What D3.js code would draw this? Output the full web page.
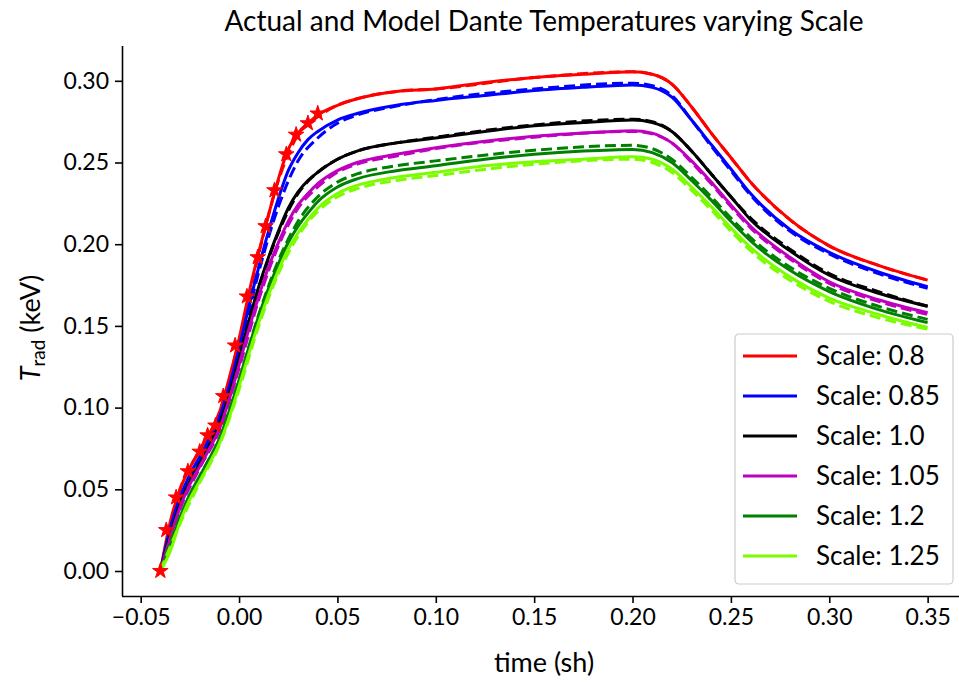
<!DOCTYPE html>
<html lang="en">
<head>
<meta charset="utf-8">
<title>Dante Temperatures</title>
<script src="https://d3js.org/d3.v7.min.js"></script>
<style>
  body { margin: 0; background: #fff; }
  text { font-family: Lato, "Open Sans", sans-serif; fill: #000; }
</style>
</head>
<body>
<div id="main"></div>
<script>

var width = 959,
    height = 684;

// model curves (solid)
var times = [-0.04, -0.035, -0.03, -0.025, -0.02, -0.015, -0.01, -0.005, 0, 0.005, 0.01, 0.015, 0.02, 0.025, 0.03, 0.035, 0.04,
             0.05, 0.06, 0.08, 0.1, 0.125, 0.15, 0.175, 0.2, 0.21, 0.22, 0.23, 0.24, 0.25, 0.26, 0.28, 0.3, 0.325, 0.35];

var scale080 = [0, 0.030, 0.050, 0.063, 0.074, 0.084, 0.097, 0.118, 0.142, 0.170, 0.195, 0.218, 0.240, 0.258, 0.268, 0.274, 0.279,
                0.285, 0.289, 0.2935, 0.295, 0.299, 0.302, 0.304, 0.3055, 0.304, 0.298, 0.284, 0.268, 0.253, 0.238, 0.215, 0.199, 0.187, 0.178];
var scale085 = [0, 0.026, 0.045, 0.059, 0.070, 0.081, 0.094, 0.113, 0.136, 0.162, 0.186, 0.208, 0.228, 0.245, 0.256, 0.264, 0.269,
                0.276, 0.280, 0.285, 0.288, 0.291, 0.294, 0.296, 0.2975, 0.296, 0.290, 0.276, 0.261, 0.246, 0.231, 0.209, 0.195, 0.183, 0.174];
var scale100 = [0, 0.022, 0.041, 0.055, 0.066, 0.077, 0.090, 0.108, 0.130, 0.153, 0.174, 0.192, 0.208, 0.222, 0.232, 0.239, 0.244,
                0.252, 0.257, 0.262, 0.265, 0.269, 0.2725, 0.2745, 0.276, 0.2745, 0.269, 0.257, 0.243, 0.229, 0.215, 0.196, 0.181, 0.170, 0.162];
var scale105 = [0, 0.020, 0.039, 0.053, 0.064, 0.075, 0.087, 0.105, 0.126, 0.148, 0.168, 0.186, 0.201, 0.214, 0.224, 0.231, 0.237,
                0.245, 0.250, 0.255, 0.259, 0.263, 0.266, 0.268, 0.2695, 0.268, 0.262, 0.251, 0.238, 0.224, 0.211, 0.192, 0.177, 0.166, 0.158];
var scale120 = [0, 0.015, 0.033, 0.047, 0.058, 0.069, 0.081, 0.098, 0.117, 0.137, 0.156, 0.173, 0.188, 0.201, 0.211, 0.219, 0.226,
                0.235, 0.240, 0.245, 0.248, 0.252, 0.255, 0.257, 0.258, 0.256, 0.250, 0.239, 0.227, 0.214, 0.202, 0.184, 0.171, 0.160, 0.152];
var scale125 = [0, 0.012, 0.030, 0.044, 0.055, 0.066, 0.078, 0.094, 0.113, 0.133, 0.152, 0.169, 0.184, 0.197, 0.207, 0.215, 0.222,
                0.231, 0.236, 0.241, 0.244, 0.248, 0.2505, 0.252, 0.2535, 0.252, 0.246, 0.235, 0.223, 0.210, 0.198, 0.180, 0.167, 0.157, 0.149];

// second set (dashed)
var timesDash = [-0.04, -0.03, -0.02, -0.01, 0, 0.01, 0.02, 0.03, 0.04, 0.05, 0.06, 0.08, 0.1, 0.15, 0.2,
                 0.21, 0.22, 0.23, 0.24, 0.25, 0.26, 0.28, 0.3, 0.325, 0.35];

var dash080 = [0, 0.050, 0.074, 0.097, 0.141, 0.194, 0.239, 0.267, 0.278, 0.285, 0.289, 0.2935, 0.295, 0.302, 0.3055,
               0.304, 0.298, 0.284, 0.268, 0.253, 0.238, 0.215, 0.199, 0.187, 0.178];
var dash085 = [0, 0.044, 0.069, 0.092, 0.133, 0.183, 0.223, 0.251, 0.265, 0.274, 0.279, 0.2845, 0.2885, 0.295, 0.2985,
               0.297, 0.291, 0.276, 0.260, 0.245, 0.230, 0.208, 0.194, 0.182, 0.173];
var dash100 = [0, 0.040, 0.065, 0.089, 0.129, 0.173, 0.207, 0.231, 0.244, 0.252, 0.257, 0.262, 0.2655, 0.273, 0.2765,
               0.275, 0.269, 0.257, 0.243, 0.229, 0.216, 0.197, 0.182, 0.171, 0.162];
var dash105 = [0, 0.038, 0.063, 0.086, 0.124, 0.166, 0.199, 0.222, 0.235, 0.244, 0.249, 0.254, 0.2585, 0.2655, 0.269,
               0.2675, 0.262, 0.250, 0.237, 0.223, 0.210, 0.191, 0.176, 0.165, 0.157];
var dash120 = [0, 0.033, 0.058, 0.081, 0.117, 0.157, 0.190, 0.214, 0.229, 0.238, 0.243, 0.248, 0.251, 0.2575, 0.2605,
               0.2585, 0.252, 0.241, 0.229, 0.216, 0.204, 0.186, 0.173, 0.162, 0.154];
var dash125 = [0, 0.029, 0.054, 0.077, 0.111, 0.150, 0.182, 0.205, 0.220, 0.229, 0.234, 0.239, 0.242, 0.249, 0.252,
               0.250, 0.244, 0.233, 0.221, 0.208, 0.196, 0.178, 0.165, 0.155, 0.148];

// measured Dante points (stars)
var starT = [-0.04, -0.037, -0.032, -0.026, -0.020, -0.016, -0.012, -0.008, -0.002, 0.004, 0.0095, 0.0135, 0.018, 0.024, 0.029, 0.035, 0.040];
var starV = [0, 0.025, 0.045, 0.061, 0.073, 0.083, 0.089, 0.107, 0.138, 0.168, 0.192, 0.211, 0.233, 0.255, 0.267, 0.274, 0.280];

var labels = ["Scale: 0.8", "Scale: 0.85", "Scale: 1.0", "Scale: 1.05", "Scale: 1.2", "Scale: 1.25"];
var colors = ["#ff0000", "#0000ff", "#000000", "#bf00bf", "#008000", "#7cfc00"];
var solidSeries = [scale080, scale085, scale100, scale105, scale120, scale125];
var dashSeries = [dash080, dash085, dash100, dash105, dash120, dash125];

var xTicks = [-0.05, 0, 0.05, 0.1, 0.15, 0.2, 0.25, 0.3, 0.35];
var yTicks = [0, 0.05, 0.1, 0.15, 0.2, 0.25, 0.3];

var svg = d3.select("#main").append("svg")
    .attr("width", width)
    .attr("height", height);

var x = d3.scaleLinear()
    .domain([-0.0595, 0.3695])
    .range([122, 966]);

var y = d3.scaleLinear()
    .domain([-0.0153, 0.3213])
    .range([596, 46]);

var line = d3.line()
    .x(function(d) { return x(d[0]); })
    .y(function(d) { return y(d[1]); })
    .curve(d3.curveMonotoneX);

var plot = svg.append("g");

solidSeries.forEach(function(s, i) {
  plot.append("path")
      .datum(times.map(function(t, j) { return [t, s[j]]; }))
      .attr("d", line)
      .attr("fill", "none")
      .attr("stroke", colors[i])
      .attr("stroke-width", 3);
  plot.append("path")
      .datum(timesDash.map(function(t, j) { return [t, dashSeries[i][j]]; }))
      .attr("d", line)
      .attr("fill", "none")
      .attr("stroke", colors[i])
      .attr("stroke-width", 3)
      .attr("stroke-dasharray", "11,5");
});

plot.selectAll(".star")
    .data(starT.map(function(t, j) { return [t, starV[j]]; }))
    .enter().append("path")
    .attr("class", "star")
    .attr("transform", function(d) { return "translate(" + x(d[0]) + "," + y(d[1]) + ")"; })
    .attr("d", d3.symbol().type(d3.symbolStar).size(75))
    .attr("fill", "#ff0000")
    .attr("stroke", "#ff0000")
    .attr("stroke-width", 1);

// axes
var xAxis = svg.append("g")
    .attr("transform", "translate(0,596)")
    .call(d3.axisBottom(x).tickValues(xTicks).tickSize(7).tickPadding(6)
      .tickFormat(function(d) { return d3.format(".2f")(d).replace("-", "\u2212"); }));
var yAxis = svg.append("g")
    .attr("transform", "translate(122,0)")
    .call(d3.axisLeft(y).tickValues(yTicks).tickSize(7).tickPadding(6).tickFormat(d3.format(".2f")));

[xAxis, yAxis].forEach(function(a) {
  a.selectAll("path.domain").attr("stroke", "#000").attr("stroke-width", 1.6);
  a.selectAll(".tick line").attr("stroke", "#000").attr("stroke-width", 1.6);
  a.selectAll(".tick text").attr("font-size", 23).attr("font-family", "Lato, sans-serif");
});
xAxis.select("path.domain").attr("d", "M122,0.5H966");
yAxis.select("path.domain").attr("d", "M0.5,596V46");

svg.append("text")
    .attr("x", 544)
    .attr("y", 31)
    .attr("text-anchor", "middle")
    .attr("font-size", 28)
    .text("Actual and Model Dante Temperatures varying Scale");

svg.append("text")
    .attr("x", 544)
    .attr("y", 672)
    .attr("text-anchor", "middle")
    .attr("font-size", 27)
    .text("time (sh)");

var yl = svg.append("text")
    .attr("transform", "translate(40,328) rotate(-90)")
    .attr("text-anchor", "middle")
    .attr("font-size", 27);
yl.append("tspan").attr("font-style", "italic").text("T");
yl.append("tspan").attr("font-size", 19).attr("dy", 5).text("rad");
yl.append("tspan").attr("dy", -5).text(" (keV)");

// legend
var legend = svg.append("g").attr("transform", "translate(735,334)");
legend.append("rect")
    .attr("width", 218)
    .attr("height", 250)
    .attr("rx", 4)
    .attr("fill", "#fff")
    .attr("fill-opacity", 0.8)
    .attr("stroke", "#cccccc")
    .attr("stroke-width", 1.2);

var item = legend.selectAll(".item")
    .data(labels)
    .enter().append("g")
    .attr("class", "item")
    .attr("transform", function(d, i) { return "translate(0," + (22 + i * 40) + ")"; });
item.append("line")
    .attr("x1", 8).attr("x2", 62)
    .attr("stroke", function(d, i) { return colors[i]; })
    .attr("stroke-width", 3);
item.append("text")
    .attr("x", 81)
    .attr("dy", "0.35em")
    .attr("font-size", 26)
    .text(function(d) { return d; });

</script>
</body>
</html>
